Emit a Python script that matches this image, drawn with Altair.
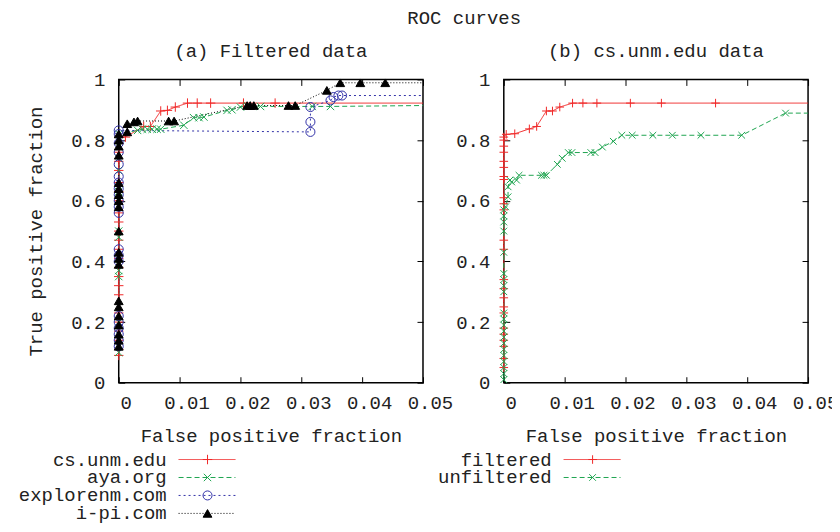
import altair as alt
import pandas as pd

FONT = "Liberation Mono"
TXT = "#222222"

# ---------------- Panel (a): Filtered data ----------------
a_names = ["cs.unm.edu", "aya.org", "explorenm.com", "i-pi.com"]

cs_stack = [0.09, 0.11, 0.14, 0.17, 0.20, 0.23, 0.29, 0.32, 0.35, 0.38, 0.41, 0.44,
            0.47, 0.50, 0.53, 0.56, 0.60, 0.63, 0.66, 0.70, 0.73, 0.76, 0.79, 0.81]
cs_fpr = [0.0011, 0.0041, 0.0052, 0.0069, 0.0080, 0.0093, 0.0113, 0.0129, 0.0151, 0.0205, 0.0257]
cs_tpr = [0.810, 0.845, 0.845, 0.896, 0.898, 0.909, 0.922, 0.922, 0.922, 0.922, 0.922]
cs_end = 0.922

aya_stack = [0.10, 0.12, 0.16, 0.20, 0.35, 0.37, 0.39, 0.48, 0.50, 0.60, 0.63, 0.70,
             0.74, 0.78, 0.80, 0.82]
aya_fpr = [0.0031, 0.0039, 0.0047, 0.0055, 0.0063, 0.0069, 0.0107, 0.0123, 0.0132, 0.0140,
           0.0178, 0.0186, 0.0200, 0.0211, 0.0233, 0.0318, 0.0348]
aya_tpr = [0.832, 0.836, 0.836, 0.836, 0.836, 0.836, 0.849, 0.874, 0.874, 0.876,
           0.898, 0.900, 0.909, 0.914, 0.911, 0.911, 0.911]
aya_end = 0.914

exp_stack = [0.12, 0.14, 0.16, 0.18, 0.20, 0.22, 0.40, 0.42, 0.44, 0.56, 0.58, 0.60,
             0.62, 0.64, 0.66, 0.68, 0.72, 0.76, 0.79, 0.82, 0.832]
exp_fpr = [0.0315, 0.0315, 0.0315, 0.0348, 0.0353, 0.0361, 0.0367]
exp_tpr = [0.827, 0.860, 0.909, 0.931, 0.942, 0.947, 0.947]
exp_end = 0.947

ipi_stack = [0.12, 0.14, 0.16, 0.19, 0.22, 0.25, 0.27, 0.39, 0.41, 0.43, 0.50, 0.58,
             0.60, 0.62, 0.64, 0.66, 0.75, 0.78, 0.80, 0.82]
ipi_fpr = [0.0014, 0.0014, 0.0025, 0.0031, 0.0082, 0.0091, 0.0211, 0.0216, 0.0222,
           0.0279, 0.0290, 0.0342, 0.0364, 0.0397, 0.0438]
ipi_tpr = [0.827, 0.854, 0.860, 0.863, 0.863, 0.863, 0.914, 0.914, 0.914,
           0.914, 0.914, 0.964, 0.989, 0.989, 0.989]
ipi_end = 0.989

# ---------------- Panel (b): cs.unm.edu data ----------------
b_names = ["filtered", "unfiltered"]

filt_stack = [0.05, 0.08, 0.12, 0.14, 0.16, 0.18, 0.23, 0.25, 0.28, 0.31, 0.34, 0.44,
              0.47, 0.57, 0.59, 0.61, 0.67, 0.68, 0.71, 0.73, 0.76, 0.78, 0.80, 0.81]
filt_fpr = [0.0004, 0.0018, 0.0042, 0.0054, 0.0070, 0.0080, 0.0092, 0.0113, 0.0130,
            0.0153, 0.0208, 0.0259, 0.0348]
filt_tpr = [0.819, 0.821, 0.837, 0.845, 0.896, 0.896, 0.909, 0.922, 0.922,
            0.922, 0.922, 0.922, 0.922]
filt_end = 0.922

unf_stack = [0.01, 0.03, 0.05, 0.07, 0.09, 0.11, 0.13, 0.15, 0.17, 0.19, 0.21, 0.23,
             0.30, 0.32, 0.34, 0.36, 0.43, 0.50, 0.53, 0.55, 0.57]
unf_fpr = [0.0003, 0.0007, 0.0007, 0.0010, 0.0013, 0.0021, 0.0025, 0.0062, 0.0066, 0.0070,
           0.0088, 0.0096, 0.0106, 0.0112, 0.0143, 0.0150, 0.0162, 0.0180, 0.0194, 0.0211,
           0.0245, 0.0277, 0.0324, 0.0391, 0.0463]
unf_tpr = [0.580, 0.613, 0.646, 0.668, 0.662, 0.668, 0.684, 0.684, 0.684, 0.684,
           0.720, 0.740, 0.759, 0.759, 0.759, 0.759, 0.777, 0.796, 0.816, 0.816,
           0.816, 0.816, 0.816, 0.816, 0.889]
unf_end = 0.889

X_MAX = 0.05


def build(defs):
    rows = []
    for name, stack, fx, fy, end in defs:
        i = 0
        for y in stack:
            rows.append(dict(series=name, fpr=0.0, tpr=y, idx=i, marker=True))
            i += 1
        for x, y in zip(fx, fy):
            rows.append(dict(series=name, fpr=x, tpr=y, idx=i, marker=True))
            i += 1
        rows.append(dict(series=name, fpr=X_MAX, tpr=end, idx=i, marker=False))
    return pd.DataFrame(rows)


df_a = build([
    ("cs.unm.edu", cs_stack, cs_fpr, cs_tpr, cs_end),
    ("aya.org", aya_stack, aya_fpr, aya_tpr, aya_end),
    ("explorenm.com", exp_stack, exp_fpr, exp_tpr, exp_end),
    ("i-pi.com", ipi_stack, ipi_fpr, ipi_tpr, ipi_end),
])
df_b = build([
    ("filtered", filt_stack, filt_fpr, filt_tpr, filt_end),
    ("unfiltered", unf_stack, unf_fpr, unf_tpr, unf_end),
])

RED, GREEN, BLUE, BLACK = "#f02828", "#1fa550", "#3232a8", "#000000"
PLUS = "M-1,0L1,0M0,-1L0,1"
CROSS = "M-0.8,-0.8L0.8,0.8M-0.8,0.8L0.8,-0.8"

W, H = 305, 304
XVALS = [0, 0.01, 0.02, 0.03, 0.04, 0.05]
YVALS = [0, 0.2, 0.4, 0.6, 0.8, 1]


def tick_axis(orient, vals):
    return alt.Axis(orient=orient, values=vals, labels=False, domain=False, ticks=True,
                    tickSize=6, offset=-6, grid=False, title=None,
                    tickColor="#000000", tickWidth=1, minExtent=0, maxExtent=0)


def panel(df, names, colors, dashes, shapes, fills, sizes, title, ytitle):
    xs = alt.Scale(domain=[0, X_MAX], nice=False, zero=False)
    ys = alt.Scale(domain=[0, 1], nice=False, zero=False)
    color = alt.Color("series:N", scale=alt.Scale(domain=names, range=colors), legend=None)
    dash = alt.StrokeDash("series:N", scale=alt.Scale(domain=names, range=dashes), legend=None)
    shape = alt.Shape("series:N", scale=alt.Scale(domain=names, range=shapes), legend=None)
    fill = alt.Fill("series:N", scale=alt.Scale(domain=names, range=fills), legend=None)
    size = alt.Size("series:N", scale=alt.Scale(domain=names, range=sizes), legend=None)

    base = alt.Chart(df)
    x_main = alt.X("fpr:Q", scale=xs, axis=alt.Axis(
        orient="bottom", values=XVALS, format=".2~f", ticks=False, domain=False, grid=False,
        labelOffset=7, labelPadding=11, labelFont=FONT, labelFontSize=19, labelColor=TXT,
        labelOverlap=False, labelBound=False, labelFlush=False,
        title="False positive fraction", titleFont=FONT, titleFontSize=19,
        titleFontWeight="normal", titlePadding=14, titleColor=TXT))
    ykw = dict(orient="left", values=YVALS, format="~g", ticks=False, domain=False, grid=False,
               labelPadding=14, labelFont=FONT, labelFontSize=19, labelColor=TXT,
               labelOverlap=False, labelBound=False, labelFlush=False)
    if ytitle:
        ykw.update(title=ytitle, titleFont=FONT, titleFontSize=19, titleFontWeight="normal",
                   titlePadding=25, titleColor=TXT)
    else:
        ykw.update(title=None)
    y_main = alt.Y("tpr:Q", scale=ys, axis=alt.Axis(**ykw))

    lines = base.mark_line(strokeWidth=1).encode(
        x=x_main, y=y_main, color=color, strokeDash=dash, order="idx:Q")
    pts = base.transform_filter("datum.marker").mark_point(
        strokeWidth=1, opacity=1, filled=False).encode(
        x=alt.X("fpr:Q", scale=xs, axis=tick_axis("bottom", XVALS)),
        y=alt.Y("tpr:Q", scale=ys, axis=tick_axis("left", YVALS)),
        color=color, shape=shape, fill=fill, size=size)
    frame_ticks = base.mark_point(opacity=0).encode(
        x=alt.X("fpr:Q", scale=xs, axis=tick_axis("top", XVALS)),
        y=alt.Y("tpr:Q", scale=ys, axis=tick_axis("right", YVALS)))

    n = len(names)
    ldf = pd.DataFrame({"series": names})
    ly = alt.Y("series:N", axis=None, scale=alt.Scale(
        type="point", domain=names, range=[H + 77, H + 77 + 18 * (n - 1)], padding=0))
    leg = alt.Chart(ldf)
    leg_rule = leg.mark_rule(strokeWidth=1).encode(
        x=alt.value(60), x2=alt.value(117), y=ly, color=color, strokeDash=dash)
    leg_pt = leg.mark_point(strokeWidth=1, opacity=1, filled=False).encode(
        x=alt.value(89), y=ly, color=color, shape=shape, fill=fill, size=size)
    leg_txt = leg.mark_text(align="right", baseline="middle", font=FONT, fontSize=19,
                            color=TXT).encode(x=alt.value(48), y=ly, text="series:N")

    return alt.layer(lines, pts, frame_ticks, leg_rule, leg_pt, leg_txt).resolve_scale(
        y="independent").resolve_axis(x="independent", y="independent").properties(
        width=W, height=H,
        title=alt.TitleParams(title, font=FONT, fontSize=19, fontWeight="normal",
                              anchor="middle", frame="group", baseline="bottom",
                              offset=-9, color=TXT))


pa = panel(df_a, a_names, [RED, GREEN, BLUE, BLACK],
           [[1, 0], [5, 3], [2, 3], [1, 2]],
           [PLUS, CROSS, "circle", "triangle-up"],
           ["transparent", "transparent", "transparent", BLACK],
           [90, 70, 55, 55],
           "(a) Filtered data", "True positive fraction")
pb = panel(df_b, b_names, [RED, GREEN],
           [[1, 0], [5, 3]],
           [PLUS, CROSS],
           ["transparent", "transparent"],
           [90, 70],
           "(b) cs.unm.edu data", None)

chart = alt.hconcat(pa, pb, spacing=81, bounds="flush").properties(
    title=alt.TitleParams("ROC curves", font=FONT, fontSize=19, fontWeight="normal",
                          anchor="middle", offset=13, dx=36, color=TXT),
    padding={"left": 10, "top": 0, "right": -7, "bottom": -2},
).configure_view(stroke="#000000", strokeWidth=1.5)

chart.save("out.html", embed_options={"renderer": "svg", "actions": False})
